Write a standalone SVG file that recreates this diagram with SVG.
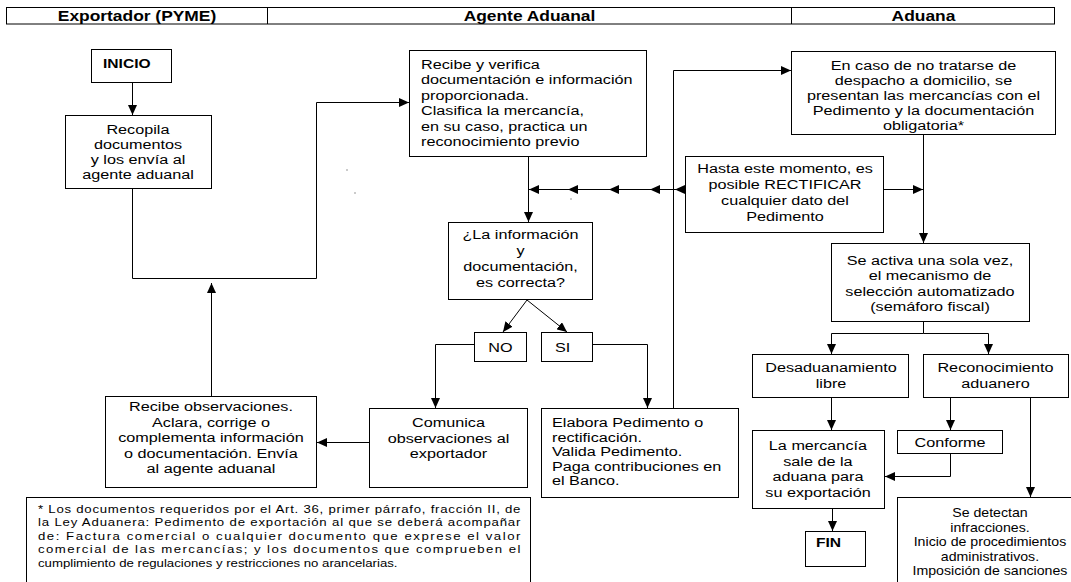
<svg xmlns="http://www.w3.org/2000/svg" width="1071" height="582" viewBox="0 0 1071 582">
<defs>
<style>
.box{fill:#fff;stroke:#000;stroke-width:1}
.ln{fill:none;stroke:#000;stroke-width:1}
.arr{marker-end:url(#ah)}
text{font-family:"Liberation Sans",Arial,Helvetica,sans-serif;font-size:13.5px;fill:#000}
.c{text-anchor:middle;transform-box:fill-box;transform-origin:center;transform:scaleX(1.2)}
.l{transform-box:fill-box;transform-origin:left center;transform:scaleX(1.2)}
.b{font-weight:bold;font-size:13px}
.h{font-size:14.5px;font-weight:bold}
.cs{font-size:12px;text-anchor:middle;transform-box:fill-box;transform-origin:center;transform:scaleX(1.18)}
.fn{font-size:11px;transform-box:fill-box;transform-origin:left center;transform:scaleX(1.2)}
.dot{fill:#888}
</style>
<marker id="ah" viewBox="0 0 10 9" refX="10" refY="4.5" markerWidth="10" markerHeight="9" markerUnits="userSpaceOnUse" orient="auto">
<path d="M0,0L10,4.5L0,9z" fill="#000"/>
</marker>
</defs>
<rect width="1071" height="582" fill="#fff"/>

<g id="header">
<rect class="box" x="6.5" y="7.5" width="1048" height="16.5"/>
<line class="ln" x1="267.5" y1="7.5" x2="267.5" y2="24"/>
<line class="ln" x1="791.5" y1="7.5" x2="791.5" y2="24"/>
<text class="c h" x="137" y="21">Exportador (PYME)</text>
<text class="c h" x="529.5" y="21">Agente Aduanal</text>
<text class="c h" x="923.5" y="21">Aduana</text>
</g>

<g id="connectors">
<line class="ln arr" x1="132.5" y1="82" x2="132.5" y2="115"/>
<polyline class="ln arr" points="132.5,188 132.5,278.5 316.5,278.5 316.5,102.5 409,102.5"/>
<line class="ln arr" x1="211.5" y1="396" x2="211.5" y2="283"/>
<line class="ln arr" x1="528.5" y1="157" x2="528.5" y2="222"/>
<polyline class="ln" points="685,189.5 675,189.5 650,189.5 609,189.5 568,189.5 529,189.5" marker-mid="url(#ah)" marker-end="url(#ah)"/>
<line class="ln arr" x1="527" y1="300" x2="503" y2="332"/>
<line class="ln arr" x1="527" y1="300" x2="567" y2="332"/>
<polyline class="ln arr" points="474,344.5 435.5,344.5 435.5,408"/>
<polyline class="ln arr" points="593,344.5 647.5,344.5 647.5,408"/>
<line class="ln arr" x1="369" y1="442.5" x2="317" y2="442.5"/>
<polyline class="ln arr" points="673.5,408 673.5,70.5 791,70.5"/>
<line class="ln arr" x1="884" y1="189.5" x2="923" y2="189.5"/>
<line class="ln arr" x1="923.5" y1="135" x2="923.5" y2="243"/>
<line class="ln" x1="923.5" y1="321" x2="923.5" y2="333.5"/>
<polyline class="ln arr" points="923.5,333.5 831.5,333.5 831.5,354"/>
<polyline class="ln arr" points="923.5,333.5 988.5,333.5 988.5,354"/>
<line class="ln arr" x1="831.5" y1="398" x2="831.5" y2="430"/>
<line class="ln arr" x1="950.5" y1="398" x2="950.5" y2="430"/>
<polyline class="ln arr" points="950.5,454 950.5,476.5 885,476.5"/>
<line class="ln arr" x1="1030.5" y1="398" x2="1030.5" y2="497"/>
<line class="ln arr" x1="832.5" y1="508" x2="832.5" y2="531"/>
</g>

<g id="inicio">
<rect class="box" x="91.5" y="49.5" width="80" height="33"/>
<text class="l b" x="103" y="68">INICIO</text>
</g>

<g id="recopila">
<rect class="box" x="65.5" y="115.5" width="146" height="73"/>
<text class="c" x="138" y="134">Recopila</text>
<text class="c" x="138" y="149">documentos</text>
<text class="c" x="138" y="164">y los envía al</text>
<text class="c" x="138" y="179.5">agente aduanal</text>
</g>

<g id="recibe">
<rect class="box" x="409.5" y="50.5" width="237" height="106"/>
<text class="l" x="421" y="69">Recibe y verifica</text>
<text class="l" x="421" y="84.5">documentación e información</text>
<text class="l" x="421" y="100">proporcionada.</text>
<text class="l" x="421" y="115.5">Clasifica la mercancía,</text>
<text class="l" x="421" y="131">en su caso, practica un</text>
<text class="l" x="421" y="146.5">reconocimiento previo</text>
</g>

<g id="decision">
<rect class="box" x="448.5" y="222.5" width="144" height="77"/>
<text class="c" x="520.5" y="239.5">¿La información</text>
<text class="c" x="520.5" y="255.5">y</text>
<text class="c" x="520.5" y="271.5">documentación,</text>
<text class="c" x="520.5" y="287.5">es correcta?</text>
</g>

<g id="no">
<rect class="box" x="474.5" y="332.5" width="52" height="29"/>
<text class="c" x="500.5" y="352">NO</text>
</g>

<g id="si">
<rect class="box" x="541.5" y="332.5" width="51" height="29"/>
<text class="l" x="555" y="352">SI</text>
</g>

<g id="comunica">
<rect class="box" x="369.5" y="408.5" width="158" height="79"/>
<text class="c" x="448.5" y="427.5">Comunica</text>
<text class="c" x="448.5" y="443">observaciones al</text>
<text class="c" x="448.5" y="458.5">exportador</text>
</g>

<g id="recibe-obs">
<rect class="box" x="105.5" y="396.5" width="211" height="91"/>
<text class="c" x="211" y="411.5">Recibe observaciones.</text>
<text class="c" x="211" y="427">Aclara, corrige o</text>
<text class="c" x="211" y="442.5">complementa información</text>
<text class="c" x="211" y="458">o documentación. Envía</text>
<text class="c" x="211" y="473.5">al agente aduanal</text>
</g>

<g id="elabora">
<rect class="box" x="541.5" y="408.5" width="197" height="89"/>
<text class="l" x="552" y="427.5">Elabora Pedimento o</text>
<text class="l" x="552" y="442">rectificación.</text>
<text class="l" x="552" y="456.5">Valida Pedimento.</text>
<text class="l" x="552" y="471">Paga contribuciones en</text>
<text class="l" x="552" y="485.5">el Banco.</text>
</g>

<g id="hasta">
<rect class="box" x="685.5" y="156.5" width="198" height="76"/>
<text class="c" x="785" y="173.5">Hasta este momento, es</text>
<text class="c" x="785" y="189.5">posible RECTIFICAR</text>
<text class="c" x="785" y="205.5">cualquier dato del</text>
<text class="c" x="785" y="221.5">Pedimento</text>
</g>

<g id="en-caso">
<rect class="box" x="791.5" y="51.5" width="264" height="83"/>
<text class="c" x="923.5" y="70.5">En caso de no tratarse de</text>
<text class="c" x="923.5" y="85.5">despacho a domicilio, se</text>
<text class="c" x="923.5" y="100.5">presentan las mercancías con el</text>
<text class="c" x="923.5" y="115.5">Pedimento y la documentación</text>
<text class="c" x="923.5" y="130.5">obligatoria*</text>
</g>

<g id="se-activa">
<rect class="box" x="831.5" y="243.5" width="198" height="78"/>
<text class="c" x="930" y="265">Se activa una sola vez,</text>
<text class="c" x="930" y="280.5">el mecanismo de</text>
<text class="c" x="930" y="296">selección automatizado</text>
<text class="c" x="930" y="311">(semáforo fiscal)</text>
</g>

<g id="desaduanamiento">
<rect class="box" x="752.5" y="354.5" width="156" height="43"/>
<text class="c" x="831" y="372.5">Desaduanamiento</text>
<text class="c" x="831" y="388">libre</text>
</g>

<g id="reconocimiento">
<rect class="box" x="923.5" y="354.5" width="145" height="43"/>
<text class="c" x="995.5" y="372.5">Reconocimiento</text>
<text class="c" x="995.5" y="388">aduanero</text>
</g>

<g id="la-mercancia">
<rect class="box" x="752.5" y="430.5" width="132" height="78"/>
<text class="c" x="818" y="450.5">La mercancía</text>
<text class="c" x="818" y="466">sale de la</text>
<text class="c" x="818" y="481.5">aduana para</text>
<text class="c" x="818" y="497">su exportación</text>
</g>

<g id="conforme">
<rect class="box" x="897.5" y="430.5" width="105" height="23"/>
<text class="c" x="950" y="447.5">Conforme</text>
</g>

<g id="se-detectan">
<rect class="box" x="897.5" y="497.5" width="190" height="100"/>
<text class="cs" x="990" y="517.5">Se detectan</text>
<text class="cs" x="990" y="532">infracciones.</text>
<text class="cs" x="990" y="546.5">Inicio de procedimientos</text>
<text class="cs" x="990" y="561">administrativos.</text>
<text class="cs" x="990" y="575.5">Imposición de sanciones</text>
</g>

<g id="fin">
<rect class="box" x="805.5" y="531.5" width="60" height="35"/>
<text class="l b" x="816" y="547.5">FIN</text>
</g>

<g id="footnote">
<rect class="box" x="26.5" y="497.5" width="504" height="100"/>
<text class="fn" x="38" y="513" textLength="402" lengthAdjust="spacing">* Los documentos requeridos por el Art. 36, primer párrafo, fracción II, de</text>
<text class="fn" x="38" y="526.5" textLength="402" lengthAdjust="spacing">la Ley Aduanera: Pedimento de exportación al que se deberá acompañar</text>
<text class="fn" x="38" y="540" textLength="402" lengthAdjust="spacing">de: Factura comercial o cualquier documento que exprese el valor</text>
<text class="fn" x="38" y="553.5" textLength="402" lengthAdjust="spacing">comercial de las mercancías; y los documentos que comprueben el</text>
<text class="fn" x="38" y="567">cumplimiento de regulaciones y restricciones no arancelarias.</text>
</g>

<g id="specks">
<circle class="dot" cx="347" cy="170" r="0.8"/>
<circle class="dot" cx="355" cy="193" r="0.8"/>
<circle class="dot" cx="571" cy="199" r="0.8"/>
</g>
</svg>
